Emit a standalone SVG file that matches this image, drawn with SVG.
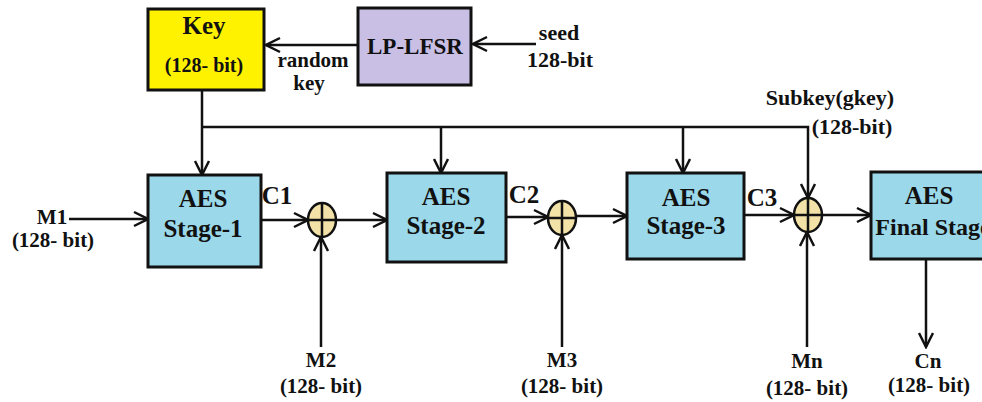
<svg xmlns="http://www.w3.org/2000/svg" width="982" height="402" viewBox="0 0 982 402">
  <style>
    text { font-family: "Liberation Serif", "Times New Roman", serif; font-weight: bold; fill: #111; text-anchor: middle; }
    .lbl { font-size: 22px; }
    .sm { font-size: 21px; }
    .box { stroke: #111; stroke-width: 3; }
    .aes { fill: #9ad8ea; }
    .big { font-size: 25px; }
    .wire { fill: none; stroke: #111; stroke-width: 2.5; }
    .xor { fill: #f2e2a8; stroke: #111; stroke-width: 2.5; }
  </style>
  <defs>
    <marker id="arr" markerUnits="userSpaceOnUse" viewBox="-16 -9 18 18" refX="0" refY="0" markerWidth="18" markerHeight="18" orient="auto">
      <path d="M-14,-7 L0,0 L-14,7" fill="none" stroke="#111" stroke-width="2.5"/>
    </marker>
  </defs>

  <g id="connectors">
    <path class="wire" d="M536,44 H473" marker-end="url(#arr)"/>
    <path class="wire" d="M358,45 H266" marker-end="url(#arr)"/>
    <path class="wire" d="M202,90 V175" marker-end="url(#arr)"/>
    <path class="wire" d="M202,127 H808 V198" marker-end="url(#arr)"/>
    <path class="wire" d="M441,127 V173" marker-end="url(#arr)"/>
    <path class="wire" d="M683,127 V173" marker-end="url(#arr)"/>
    <path class="wire" d="M69,219 H148" marker-end="url(#arr)"/>
    <path class="wire" d="M261,220 H308" marker-end="url(#arr)"/>
    <path class="wire" d="M336,220 H387" marker-end="url(#arr)"/>
    <path class="wire" d="M506,217 H548" marker-end="url(#arr)"/>
    <path class="wire" d="M576,216 H627" marker-end="url(#arr)"/>
    <path class="wire" d="M744,215 H794" marker-end="url(#arr)"/>
    <path class="wire" d="M822,215 H871" marker-end="url(#arr)"/>
    <path class="wire" d="M321,347 V237" marker-end="url(#arr)"/>
    <path class="wire" d="M562,347 V235" marker-end="url(#arr)"/>
    <path class="wire" d="M807,347 V232" marker-end="url(#arr)"/>
    <path class="wire" d="M926,259 V347" marker-end="url(#arr)"/>
  </g>

  <g id="key">
    <rect class="box" x="148" y="9" width="116" height="81" fill="#fff200"/>
    <text x="204" y="34" font-size="25">Key</text>
    <text x="204" y="72" font-size="20">(128- bit)</text>
  </g>
  <g id="lfsr">
    <rect class="box" x="358" y="8" width="113" height="77" fill="#c9bfe5"/>
    <text x="415" y="54" font-size="24" textLength="96" lengthAdjust="spacingAndGlyphs">LP-LFSR</text>
  </g>
  <g id="aes1">
    <rect class="box aes" x="148" y="175" width="113" height="92"/>
    <text class="big" x="203" y="207">AES</text>
    <text class="big" x="203" y="237">Stage-1</text>
  </g>
  <g id="aes2">
    <rect class="box aes" x="387" y="173" width="119" height="89"/>
    <text class="big" x="446" y="205">AES</text>
    <text class="big" x="446" y="234">Stage-2</text>
  </g>
  <g id="aes3">
    <rect class="box aes" x="627" y="173" width="117" height="86"/>
    <text class="big" x="686" y="206">AES</text>
    <text class="big" x="686" y="234">Stage-3</text>
  </g>
  <g id="aesfinal">
    <rect class="box aes" x="871" y="172" width="125" height="87"/>
    <text class="big" x="929" y="204">AES</text>
    <text x="933" y="235" font-size="24">Final Stage</text>
  </g>
  <g id="xor1">
    <ellipse class="xor" cx="322" cy="220" rx="14" ry="17"/>
    <path class="wire" d="M308,220 H336 M322,203 V237"/>
  </g>
  <g id="xor2">
    <ellipse class="xor" cx="562" cy="218" rx="14" ry="17"/>
    <path class="wire" d="M548,218 H576 M562,201 V235"/>
  </g>
  <g id="xor3">
    <ellipse class="xor" cx="808" cy="215" rx="14" ry="17"/>
    <path class="wire" d="M794,215 H822 M808,198 V232"/>
  </g>

  <g id="labels">
    <text x="313" y="67" font-size="21">random</text>
    <text x="309" y="90" font-size="21">key</text>
    <text class="lbl" x="559" y="40">seed</text>
    <text class="lbl" x="560" y="67">128-bit</text>
    <text class="lbl" x="830" y="105">Subkey(gkey)</text>
    <text class="lbl" x="852" y="134">(128-bit)</text>
    <text class="sm" x="52" y="224">M1</text>
    <text class="sm" x="53" y="247">(128- bit)</text>
    <text class="big" x="277" y="204">C1</text>
    <text class="big" x="524" y="203">C2</text>
    <text class="big" x="762" y="206">C3</text>
    <text class="sm" x="321" y="367">M2</text>
    <text class="sm" x="321" y="393">(128- bit)</text>
    <text class="sm" x="562" y="367">M3</text>
    <text class="sm" x="562" y="393">(128- bit)</text>
    <text class="sm" x="807" y="368">Mn</text>
    <text class="sm" x="807" y="395">(128- bit)</text>
    <text class="sm" x="928" y="368">Cn</text>
    <text class="sm" x="929" y="392">(128- bit)</text>
  </g>
</svg>
